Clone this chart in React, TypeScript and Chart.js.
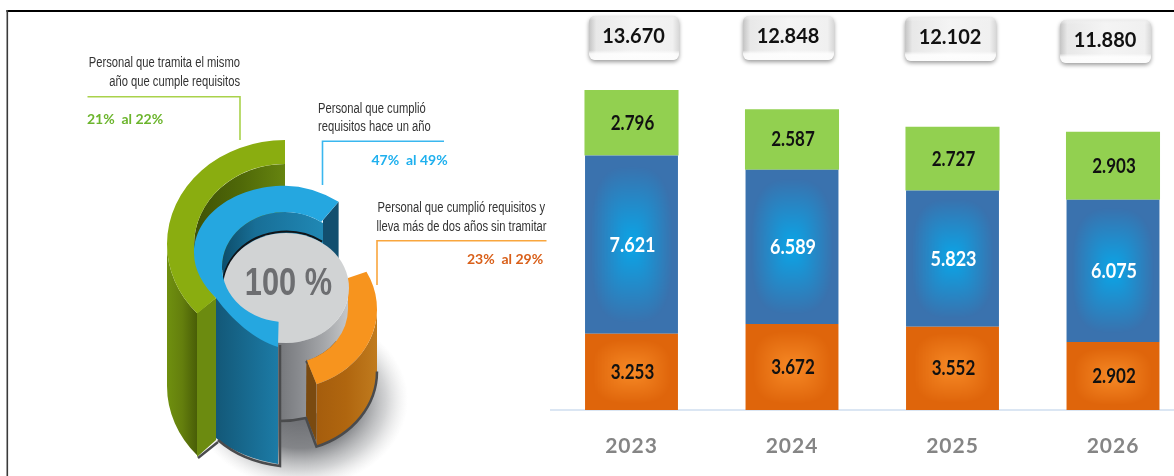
import React, { useEffect, useRef } from "react";
import { Chart, registerables } from "chart.js";

Chart.register(...registerables);

const years = ["2023", "2024", "2025", "2026"];
const tramitaMismoAno = [2796, 2587, 2727, 2903];
const cumplioHaceUnAno = [7621, 6589, 5823, 6075];
const masDeDosAnos = [3253, 3672, 3552, 2902];
const totals = [13670, 12848, 12102, 11880];

const labelTramita = ["Personal que tramita el mismo", "año que cumple requisitos"];
const rangeTramita = "21%  al 22%";
const labelCumplio = ["Personal que cumplió", "requisitos hace un año"];
const rangeCumplio = "47%  al 49%";
const labelMasDos = ["Personal que cumplió requisitos y", "lleva más de dos años sin tramitar"];
const rangeMasDos = "23%  al 29%";
const centerLabel = "100 %";

const fmt = (n: number) => String(n).replace(/\B(?=(\d{3})+$)/g, ".");
const rad = (d: number) => (d * Math.PI) / 180;

function hexRgb(h: string) {
  return [1, 3, 5].map((i) => parseInt(h.slice(i, i + 2), 16));
}

const patternCache = new Map<string, CanvasPattern>();
function rectGradient(chart: any, x: number, y: number, w: number, h: number, inner: string, outer: string, reach: number) {
  const key = [x, y, w, h, inner].join("|");
  const hit = patternCache.get(key);
  if (hit) return hit;
  const off = document.createElement("canvas");
  const W = Math.max(1, Math.round(w));
  const H = Math.max(1, Math.round(h));
  off.width = W;
  off.height = H;
  const c = off.getContext("2d")!;
  const img = c.createImageData(W, H);
  const a = hexRgb(inner);
  const b = hexRgb(outer);
  for (let j = 0; j < H; j++) {
    for (let i = 0; i < W; i++) {
      const u = Math.abs((i + 0.5) / W - 0.5) * 2;
      const v = Math.abs((j + 0.5) / H - 0.5) * 2;
      const d = Math.pow(Math.pow(u, 3) + Math.pow(v, 3), 1 / 3);
      const k = Math.min(1, d / reach);
      const p = (j * W + i) * 4;
      img.data[p] = a[0] + (b[0] - a[0]) * k;
      img.data[p + 1] = a[1] + (b[1] - a[1]) * k;
      img.data[p + 2] = a[2] + (b[2] - a[2]) * k;
      img.data[p + 3] = 255;
    }
  }
  c.putImageData(img, 0, 0);
  const pat = chart.ctx.createPattern(off, "repeat") as CanvasPattern;
  pat.setTransform(new DOMMatrix().translate(x, y));
  patternCache.set(key, pat);
  return pat;
}

function segmentFill(inner: string, outer: string, reach: number, below: number[][], own: number[]) {
  return (ctx: any) => {
    if (ctx.dataIndex === undefined || !ctx.chart.scales.y) return outer;
    const i = ctx.dataIndex;
    const base = below.reduce((s, arr) => s + arr[i], 0);
    const ys = ctx.chart.scales.y;
    const xs = ctx.chart.scales.x;
    const y0 = ys.getPixelForValue(base + own[i]);
    const y1 = ys.getPixelForValue(base);
    const x0 = xs.getPixelForValue(i) - 46.5;
    if (!Number.isFinite(y0) || !Number.isFinite(y1) || !Number.isFinite(x0) || y1 - y0 < 1) return outer;
    return rectGradient(ctx.chart, x0, y0, 93, y1 - y0, inner, outer, reach);
  };
}

function hGrad(ctx: CanvasRenderingContext2D, x0: number, x1: number, stops: string[]) {
  const g = ctx.createLinearGradient(x0, 0, x1, 0);
  stops.forEach((s, i) => g.addColorStop(i / (stops.length - 1), s));
  return g;
}

function wall(ctx: CanvasRenderingContext2D, cx: number, cy: number, rx: number, ry: number, h: number, a0: number, a1: number, fill: any) {
  ctx.beginPath();
  ctx.ellipse(cx, cy, rx, ry, 0, rad(a0), rad(a1), a1 < a0);
  ctx.ellipse(cx, cy + h, rx, ry, 0, rad(a1), rad(a0), a1 > a0);
  ctx.closePath();
  ctx.fillStyle = fill;
  ctx.fill();
}

function poly(ctx: CanvasRenderingContext2D, pts: number[][], fill: any) {
  ctx.beginPath();
  pts.forEach((p, i) => (i ? ctx.lineTo(p[0], p[1]) : ctx.moveTo(p[0], p[1])));
  ctx.closePath();
  ctx.fillStyle = fill;
  ctx.fill();
}

// text squeezed horizontally, as the reference uses condensed faces
function squeezed(ctx: CanvasRenderingContext2D, text: string, x: number, y: number, sx: number) {
  ctx.save();
  ctx.translate(x, y);
  ctx.scale(sx, 1);
  ctx.fillText(text, 0, 0);
  ctx.restore();
}

function drawIllustration(ctx: CanvasRenderingContext2D) {
  ctx.save();
  // soft shadow
  ctx.save();
  ctx.translate(300, 400);
  ctx.scale(108, 88);
  const sh = ctx.createRadialGradient(0, 0, 0, 0, 0, 1);
  sh.addColorStop(0, "rgba(95,97,102,1)");
  sh.addColorStop(0.55, "rgba(110,112,116,0.85)");
  sh.addColorStop(0.8, "rgba(150,152,155,0.42)");
  sh.addColorStop(1, "rgba(200,200,200,0)");
  ctx.fillStyle = sh;
  ctx.beginPath();
  ctx.arc(0, 0, 1, 0, Math.PI * 2);
  ctx.fill();
  ctx.restore();

  // green
  wall(ctx, 285, 244, 118, 104, 142, 180, 138, hGrad(ctx, 167, 197, ["#6f900f", "#647f0d", "#495e07"]));
  poly(ctx, [[197, 313], [216, 298], [216, 440], [197, 457]], "#6c8b10");
  ctx.strokeStyle = "#4a4b4d";
  ctx.lineWidth = 2.5;
  ctx.beginPath();
  ctx.moveTo(198, 458);
  ctx.lineTo(218, 442);
  ctx.stroke();

  // green inner wall
  ctx.beginPath();
  ctx.ellipse(285, 245, 91, 81, 0, rad(180), rad(270));
  ctx.lineTo(285, 270);
  ctx.lineTo(194, 270);
  ctx.closePath();
  ctx.fillStyle = hGrad(ctx, 194, 285, ["#3f5206", "#4f6808", "#66840f"]);
  ctx.fill();

  // green top
  ctx.beginPath();
  ctx.ellipse(285, 244, 118, 104, 0, rad(270), rad(138), true);
  ctx.lineTo(216, 298);
  ctx.ellipse(285, 245, 91, 81, 0, rad(139.3), rad(270));
  ctx.closePath();
  ctx.fillStyle = "#8aad10";
  ctx.fill();

  // grey cylinder
  wall(ctx, 286, 288, 63, 55, 77, 0, 105, hGrad(ctx, 278, 349, ["#74767a", "#8b8d91", "#a6a8ab", "#c6c8ca"]));
  ctx.strokeStyle = "#4a4b4d";
  ctx.lineWidth = 2.5;
  ctx.beginPath();
  ctx.moveTo(280, 421);
  ctx.quadraticCurveTo(293, 421, 306, 418);
  ctx.stroke();

  // orange
  wall(ctx, 285, 309, 92, 80, 62, 0, 70, hGrad(ctx, 316, 377, ["#a55d0d", "#b0660f", "#c07b1e"]));
  poly(ctx, [[306.4, 359.3], [316, 382.7], [316, 441], [306, 416]], "#7a4a10");
  ctx.strokeStyle = "#4a4b4d";
  ctx.lineWidth = 2.5;
  ctx.beginPath();
  ctx.moveTo(305.5, 417);
  ctx.lineTo(315, 443);
  ctx.ellipse(285, 371.5, 92, 80, 0, rad(70), rad(0), true);
  ctx.stroke();
  ctx.beginPath();
  ctx.ellipse(285, 310, 63.5, 55.5, 0, rad(35), rad(71));
  ctx.stroke();
  ctx.beginPath();
  ctx.ellipse(285, 309, 92, 80, 0, rad(-27.7), rad(69.9));
  ctx.lineTo(306.4, 359.3);
  ctx.ellipse(285, 309, 63, 55, 0, rad(69.6), rad(0), true);
  ctx.lineTo(348, 278);
  ctx.closePath();
  ctx.fillStyle = "#f7941e";
  ctx.fill();

  // blue inner wall and end face
  ctx.save();
  ctx.beginPath();
  ctx.rect(190, 180, 133, 150);
  ctx.clip();
  ctx.beginPath();
  ctx.ellipse(285, 267, 63, 55, 0, 0, Math.PI * 2);
  ctx.fillStyle = hGrad(ctx, 222, 323, ["#0d4d6a", "#186f97", "#1c7ba6", "#2088b4"]);
  ctx.fill();
  ctx.restore();
  poly(ctx, [[338.6, 201.7], [323, 220], [323, 280], [338.6, 300]], "#124f6f");

  // disc
  ctx.beginPath();
  ctx.ellipse(286, 286.6, 63, 55, 0, rad(170), rad(305));
  ctx.strokeStyle = "#101418";
  ctx.lineWidth = 2;
  ctx.stroke();
  ctx.beginPath();
  ctx.ellipse(286, 288, 63, 55, 0, 0, Math.PI * 2);
  ctx.fillStyle = "#d1d3d4";
  ctx.fill();

  // blue outer wall
  const bw = ctx.createLinearGradient(216, 0, 278, 0);
  bw.addColorStop(0, "#135878");
  bw.addColorStop(1, "#1c7ba6");
  ctx.beginPath();
  ctx.moveTo(216, 290);
  ctx.lineTo(278, 340);
  ctx.lineTo(278, 464);
  ctx.bezierCurveTo(255, 460, 232, 452, 216, 438);
  ctx.closePath();
  ctx.fillStyle = bw;
  ctx.fill();
  ctx.strokeStyle = "#4a4b4d";
  ctx.lineWidth = 2.5;
  ctx.beginPath();
  ctx.moveTo(218, 440);
  ctx.bezierCurveTo(234, 454, 256, 463, 280, 466);
  ctx.lineTo(280, 345);
  ctx.stroke();

  // blue top
  ctx.beginPath();
  ctx.moveTo(338.6, 201.7);
  ctx.quadraticCurveTo(312, 186, 285, 185.7);
  ctx.bezierCurveTo(235, 185.7, 194, 215, 194, 253);
  ctx.bezierCurveTo(194, 270, 203, 285, 216, 298);
  ctx.bezierCurveTo(232, 320, 255, 340, 278, 347);
  ctx.lineTo(278.6, 322);
  ctx.ellipse(285, 267, 63, 55, 0, rad(96), rad(305));
  ctx.closePath();
  ctx.fillStyle = "#25a7e0";
  ctx.fill();

  // centre text
  ctx.fillStyle = "#6d6e71";
  ctx.font = "bold 38px 'Liberation Sans'";
  ctx.textAlign = "center";
  ctx.textBaseline = "middle";
  squeezed(ctx, centerLabel, 288.5, 285, 0.81);

  // leader lines
  const leader = (pts: number[][], color: string) => {
    ctx.beginPath();
    pts.forEach((p, i) => (i ? ctx.lineTo(p[0], p[1]) : ctx.moveTo(p[0], p[1])));
    ctx.strokeStyle = color;
    ctx.lineWidth = 1.6;
    ctx.stroke();
  };
  leader([[87.5, 96.7], [240, 96.7], [240, 140]], "#a9d24b");
  leader([[444, 141.3], [322.5, 141.3], [322.5, 185]], "#3ab7ef");
  leader([[546.5, 240.7], [377, 240.7], [377, 285]], "#f9a63e");

  // labels
  ctx.font = "14px 'Liberation Sans'";
  ctx.fillStyle = "#333333";
  ctx.textAlign = "right";
  squeezed(ctx, labelTramita[0], 240, 63, 0.8);
  squeezed(ctx, labelTramita[1], 240, 82, 0.8);
  ctx.textAlign = "left";
  squeezed(ctx, labelCumplio[0], 318, 109, 0.8);
  squeezed(ctx, labelCumplio[1], 318, 127, 0.8);
  ctx.textAlign = "right";
  squeezed(ctx, labelMasDos[0], 545, 208, 0.8);
  squeezed(ctx, labelMasDos[1], 546.5, 227, 0.8);

  ctx.font = "bold 14px Lato";
  ctx.textAlign = "center";
  ctx.fillStyle = "#6cb52d";
  ctx.fillText(rangeTramita, 125, 119);
  ctx.fillStyle = "#1fb0ee";
  ctx.fillText(rangeCumplio, 409.5, 160);
  ctx.fillStyle = "#d9601a";
  ctx.fillText(rangeMasDos, 505, 259);
  ctx.restore();
}

// pill boxes: left, top, right, bottom, text centre y
const pillBoxes = [
  [589, 16, 679, 60, 36.7],
  [743, 16, 834, 60, 36.7],
  [905, 17, 996, 61, 37.5],
  [1060, 20, 1151, 63, 40.7],
];

function drawPill(ctx: CanvasRenderingContext2D, b: number[], text: string) {
  const [l, t, r, bt, ty] = b;
  const w = r - l;
  const h = bt - t;
  ctx.save();
  ctx.shadowColor = "rgba(0,0,0,0.4)";
  ctx.shadowBlur = 4;
  ctx.shadowOffsetY = 2;
  ctx.beginPath();
  ctx.roundRect(l, t, w, h, 6);
  const g = ctx.createLinearGradient(l, 0, r, 0);
  g.addColorStop(0, "#c4c4c4");
  g.addColorStop(0.08, "#e8e8e8");
  g.addColorStop(0.5, "#f4f4f4");
  g.addColorStop(0.93, "#f0f0f0");
  g.addColorStop(1, "#d8d8d8");
  ctx.fillStyle = g;
  ctx.fill();
  ctx.restore();
  ctx.save();
  ctx.beginPath();
  ctx.roundRect(l, t, w, h, 6);
  ctx.clip();
  const v = ctx.createLinearGradient(0, t, 0, bt);
  v.addColorStop(0, "rgba(235,235,235,0.8)");
  v.addColorStop(0.1, "rgba(245,245,245,0)");
  v.addColorStop(0.78, "rgba(255,255,255,0)");
  v.addColorStop(0.86, "rgba(255,255,255,0.85)");
  v.addColorStop(1, "rgba(252,252,252,1)");
  ctx.fillStyle = v;
  ctx.fillRect(l, t, w, h);
  ctx.restore();
  ctx.fillStyle = "#111111";
  ctx.font = "bold 20px Lato";
  ctx.textAlign = "center";
  ctx.textBaseline = "middle";
  ctx.fillText(text, (l + r) / 2 - 0.5, ty);
}

const artPlugin = {
  id: "art",
  beforeDraw(chart: any) {
    const ctx = chart.ctx;
    drawIllustration(ctx);
    ctx.letterSpacing = "1px";
  },
  afterDatasetsDraw(chart: any) {
    const ctx = chart.ctx;
    ctx.letterSpacing = "0px";
    ctx.save();
    ctx.textAlign = "center";
    ctx.textBaseline = "middle";
    chart.data.datasets.forEach((ds: any, di: number) => {
      const meta = chart.getDatasetMeta(di);
      meta.data.forEach((el: any, i: number) => {
        const pos = el.getCenterPoint();
        ctx.font = ds.labelFont;
        ctx.fillStyle = ds.labelColor;
        squeezed(ctx, fmt(ds.data[i]), pos.x + 1, pos.y + 0.5, ds.labelSqueeze);
      });
    });
    ctx.restore();
    totals.forEach((v, i) => drawPill(ctx, pillBoxes[i], fmt(v)));
    // frame
    ctx.fillStyle = "#000000";
    ctx.fillRect(6.5, 10, 1168, 2);
    ctx.fillStyle = "#3a3a3a";
    ctx.fillRect(6.5, 10, 1.6, 466);
  },
};

export default function App() {
  const ref = useRef<HTMLCanvasElement>(null);
  useEffect(() => {
    document.body.style.margin = "0";
    document.body.style.background = "#ffffff";
    patternCache.clear();
    const chart = new Chart(ref.current as HTMLCanvasElement, {
      type: "bar",
      data: {
        labels: years,
        datasets: [
          {
            label: "Personal que cumplió requisitos y lleva más de dos años sin tramitar",
            data: masDeDosAnos,
            backgroundColor: segmentFill("#f78a26", "#df650b", 0.85, [], masDeDosAnos),
            barPercentage: 0.579,
            categoryPercentage: 1,
            labelFont: "bold 20px Lato",
            labelSqueeze: 0.85,
            labelColor: "#111111",
          },
          {
            label: "Personal que cumplió requisitos hace un año",
            data: cumplioHaceUnAno,
            backgroundColor: segmentFill("#0aa6e8", "#3a72ae", 0.88, [masDeDosAnos], cumplioHaceUnAno),
            barPercentage: 0.579,
            categoryPercentage: 1,
            labelFont: "bold 20px Lato",
            labelSqueeze: 0.9,
            labelColor: "#ffffff",
          },
          {
            label: "Personal que tramita el mismo año que cumple requisitos",
            data: tramitaMismoAno,
            backgroundColor: "#92d050",
            barPercentage: 0.586,
            categoryPercentage: 1,
            labelFont: "bold 20px Lato",
            labelSqueeze: 0.85,
            labelColor: "#111111",
          },
        ] as any,
      },
      options: {
        responsive: false,
        animation: false,
        events: [],
        layout: { padding: { left: 551.25, right: 6.75, top: 12, bottom: 17 } },
        plugins: { legend: { display: false }, tooltip: { enabled: false } },
        scales: {
          x: {
            stacked: true,
            offset: true,
            afterFit: (s: any) => {
              s.height = 49;
            },
            grid: { display: false, drawTicks: false },
            border: { display: true, color: "#dbe6f3", width: 2 },
            ticks: {
              color: "#858585",
              padding: 24,
              font: { family: "Lato", size: 21, weight: "bold" },
              maxRotation: 0,
            },
          },
          y: { stacked: true, display: false, min: 0, max: 17000 },
        },
      },
      plugins: [artPlugin],
    } as any);
    return () => chart.destroy();
  }, []);
  return (
    <div style={{ position: "absolute", left: 0, top: 0, width: 1174, height: 476, overflow: "hidden", background: "#fff" }}>
      <canvas ref={ref} width={1200} height={476} style={{ display: "block" }} />
    </div>
  );
}
